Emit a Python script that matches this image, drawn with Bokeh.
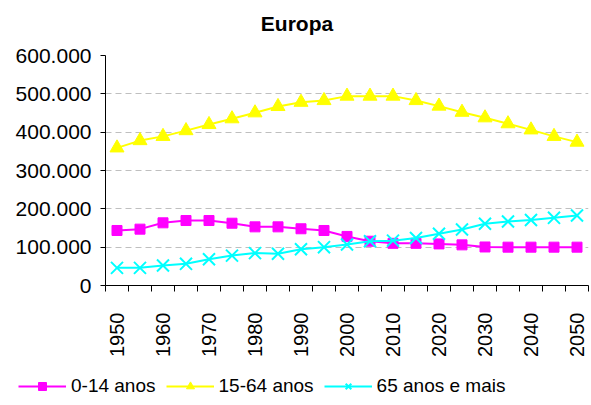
import math
from bokeh.plotting import figure
from bokeh.models import (Range1d, FixedTicker, Legend, LegendItem, ColumnDataSource)
from bokeh.core.properties import value
from bokeh.embed import file_html
from bokeh.resources import INLINE

# ---- data ----
years = [1950, 1955, 1960, 1965, 1970, 1975, 1980, 1985, 1990, 1995, 2000,
         2005, 2010, 2015, 2020, 2025, 2030, 2035, 2040, 2045, 2050]
age_0_14 = [143500, 147000, 163500, 169500, 169500, 162500, 153000, 153000, 148000, 143500, 128000,
            115500, 110000, 110000, 108500, 106000, 100500, 100000, 100000, 100000, 100000]
age_15_64 = [359000, 378000, 389000, 404000, 420000, 435000, 450500, 467000, 478000, 482500, 494000,
             494000, 494000, 482500, 468000, 452000, 437500, 422000, 406000, 389000, 374000]
age_65_plus = [46000, 46000, 52000, 56500, 68500, 78000, 84500, 83000, 94500, 100000, 107000,
               115500, 117000, 124000, 135000, 146000, 161000, 167000, 171000, 176500, 182500]
series_names = ["0-14 anos", "15-64 anos", "65 anos e mais"]
y_tick_values = [0, 100000, 200000, 300000, 400000, 500000, 600000]
y_tick_labels = ["0", "100.000", "200.000", "300.000", "400.000", "500.000", "600.000"]
x_label_years = [1950, 1960, 1970, 1980, 1990, 2000, 2010, 2020, 2030, 2040, 2050]
title_text = "Europa"

FONT = "Liberation Sans"
COLORS = ["#FF00FF", "#FFFF00", "#00FFFF"]
W = 591
half = (years[1] - years[0]) / 2.0
boundaries = [y - half for y in years] + [years[-1] + half]


def strip(height):
    f = figure(width=W, height=height, output_backend="svg", toolbar_location=None, title=None,
               x_range=Range1d(0, W), y_range=Range1d(height, 0),
               min_border_left=0, min_border_right=0, min_border_top=0, min_border_bottom=0)
    f.axis.visible = False
    f.grid.visible = False
    f.outline_line_color = None
    f.background_fill_color = "white"
    f.border_fill_color = "white"
    return f


# ---- title strip ----
t = strip(40)
t.text(x=[W / 2 + 1], y=[23], text=[title_text], text_align="center", text_baseline="middle",
       text_font=value(FONT), text_font_size="21px", text_font_style="bold", text_color="black")

# ---- main chart ----
p = figure(width=W, height=325, output_backend="svg", toolbar_location=None,
           x_range=Range1d(years[0] - half, years[-1] + half),
           y_range=Range1d(y_tick_values[0], y_tick_values[-1]),
           min_border_left=105, min_border_right=3, min_border_top=15, min_border_bottom=80)
p.outline_line_color = None
p.background_fill_color = "white"
p.border_fill_color = "white"

src = ColumnDataSource(dict(x=years, a=age_0_14, b=age_15_64, c=age_65_plus))

p.line("x", "a", source=src, line_color=COLORS[0], line_width=2)
p.scatter("x", "a", source=src, marker="square", size=10, fill_color=COLORS[0], line_color=COLORS[0])
p.line("x", "b", source=src, line_color=COLORS[1], line_width=2)
p.scatter("x", "b", source=src, marker="triangle", size=14, fill_color=COLORS[1], line_color=COLORS[1])
p.line("x", "c", source=src, line_color=COLORS[2], line_width=2)
p.scatter("x", "c", source=src, marker="x", size=17, line_color=COLORS[2], line_width=2)

p.yaxis.ticker = FixedTicker(ticks=y_tick_values)
p.yaxis.major_label_overrides = {v: s for v, s in zip(y_tick_values, y_tick_labels)}
p.yaxis.major_label_text_font = FONT
p.yaxis.major_label_text_font_size = "21px"
p.yaxis.major_label_text_color = "black"
p.yaxis.major_tick_out = 5
p.yaxis.major_tick_in = 0
p.yaxis.minor_tick_line_color = None
p.yaxis.axis_line_color = "black"
p.yaxis.major_tick_line_color = "black"
p.yaxis.major_label_standoff = 9

p.xaxis.ticker = FixedTicker(ticks=x_label_years, minor_ticks=boundaries)
p.xaxis.major_tick_out = 0
p.xaxis.major_tick_in = 0
p.xaxis.minor_tick_out = 6
p.xaxis.minor_tick_in = 0
p.xaxis.minor_tick_line_color = "black"
p.xaxis.axis_line_color = "black"
p.xaxis.major_label_orientation = math.pi / 2
p.xaxis.major_label_text_font = FONT
p.xaxis.major_label_text_font_size = "20px"
p.xaxis.major_label_text_color = "black"
p.xaxis.major_label_standoff = 21

p.xgrid.grid_line_color = None
p.ygrid.ticker = FixedTicker(ticks=y_tick_values)
p.ygrid.grid_line_color = "#BFBFBF"
p.ygrid.grid_line_dash = "6 4"
p.ygrid.grid_line_width = 1

# ---- legend strip (legend-only renderers hold NaN and draw nothing) ----
q = strip(40)
nan = float("nan")
blank = ColumnDataSource(dict(x=[nan], y=[nan]))
k1 = q.line("x", "y", source=blank, line_color=COLORS[0], line_width=2)
n1 = q.scatter("x", "y", source=blank, marker="square", size=10, fill_color=COLORS[0], line_color=COLORS[0])
k2 = q.line("x", "y", source=blank, line_color=COLORS[1], line_width=2)
n2 = q.scatter("x", "y", source=blank, marker="triangle", size=13, fill_color=COLORS[1], line_color=COLORS[1])
k3 = q.line("x", "y", source=blank, line_color=COLORS[2], line_width=2)
n3 = q.scatter("x", "y", source=blank, marker="x", size=15, line_color=COLORS[2], line_width=2)

legend = Legend(items=[LegendItem(label=series_names[0], renderers=[k1, n1]),
                       LegendItem(label=series_names[1], renderers=[k2, n2]),
                       LegendItem(label=series_names[2], renderers=[k3, n3])],
                orientation="horizontal", location=(18, 8),
                glyph_width=48, glyph_height=20, label_standoff=5, spacing=10,
                padding=0, margin=0, border_line_color=None, background_fill_alpha=0,
                label_text_font=FONT, label_text_font_size="19px", label_text_color="black")
q.add_layout(legend, "center")

html = file_html([t, p, q], INLINE)
open("out.html", "w").write(html)
